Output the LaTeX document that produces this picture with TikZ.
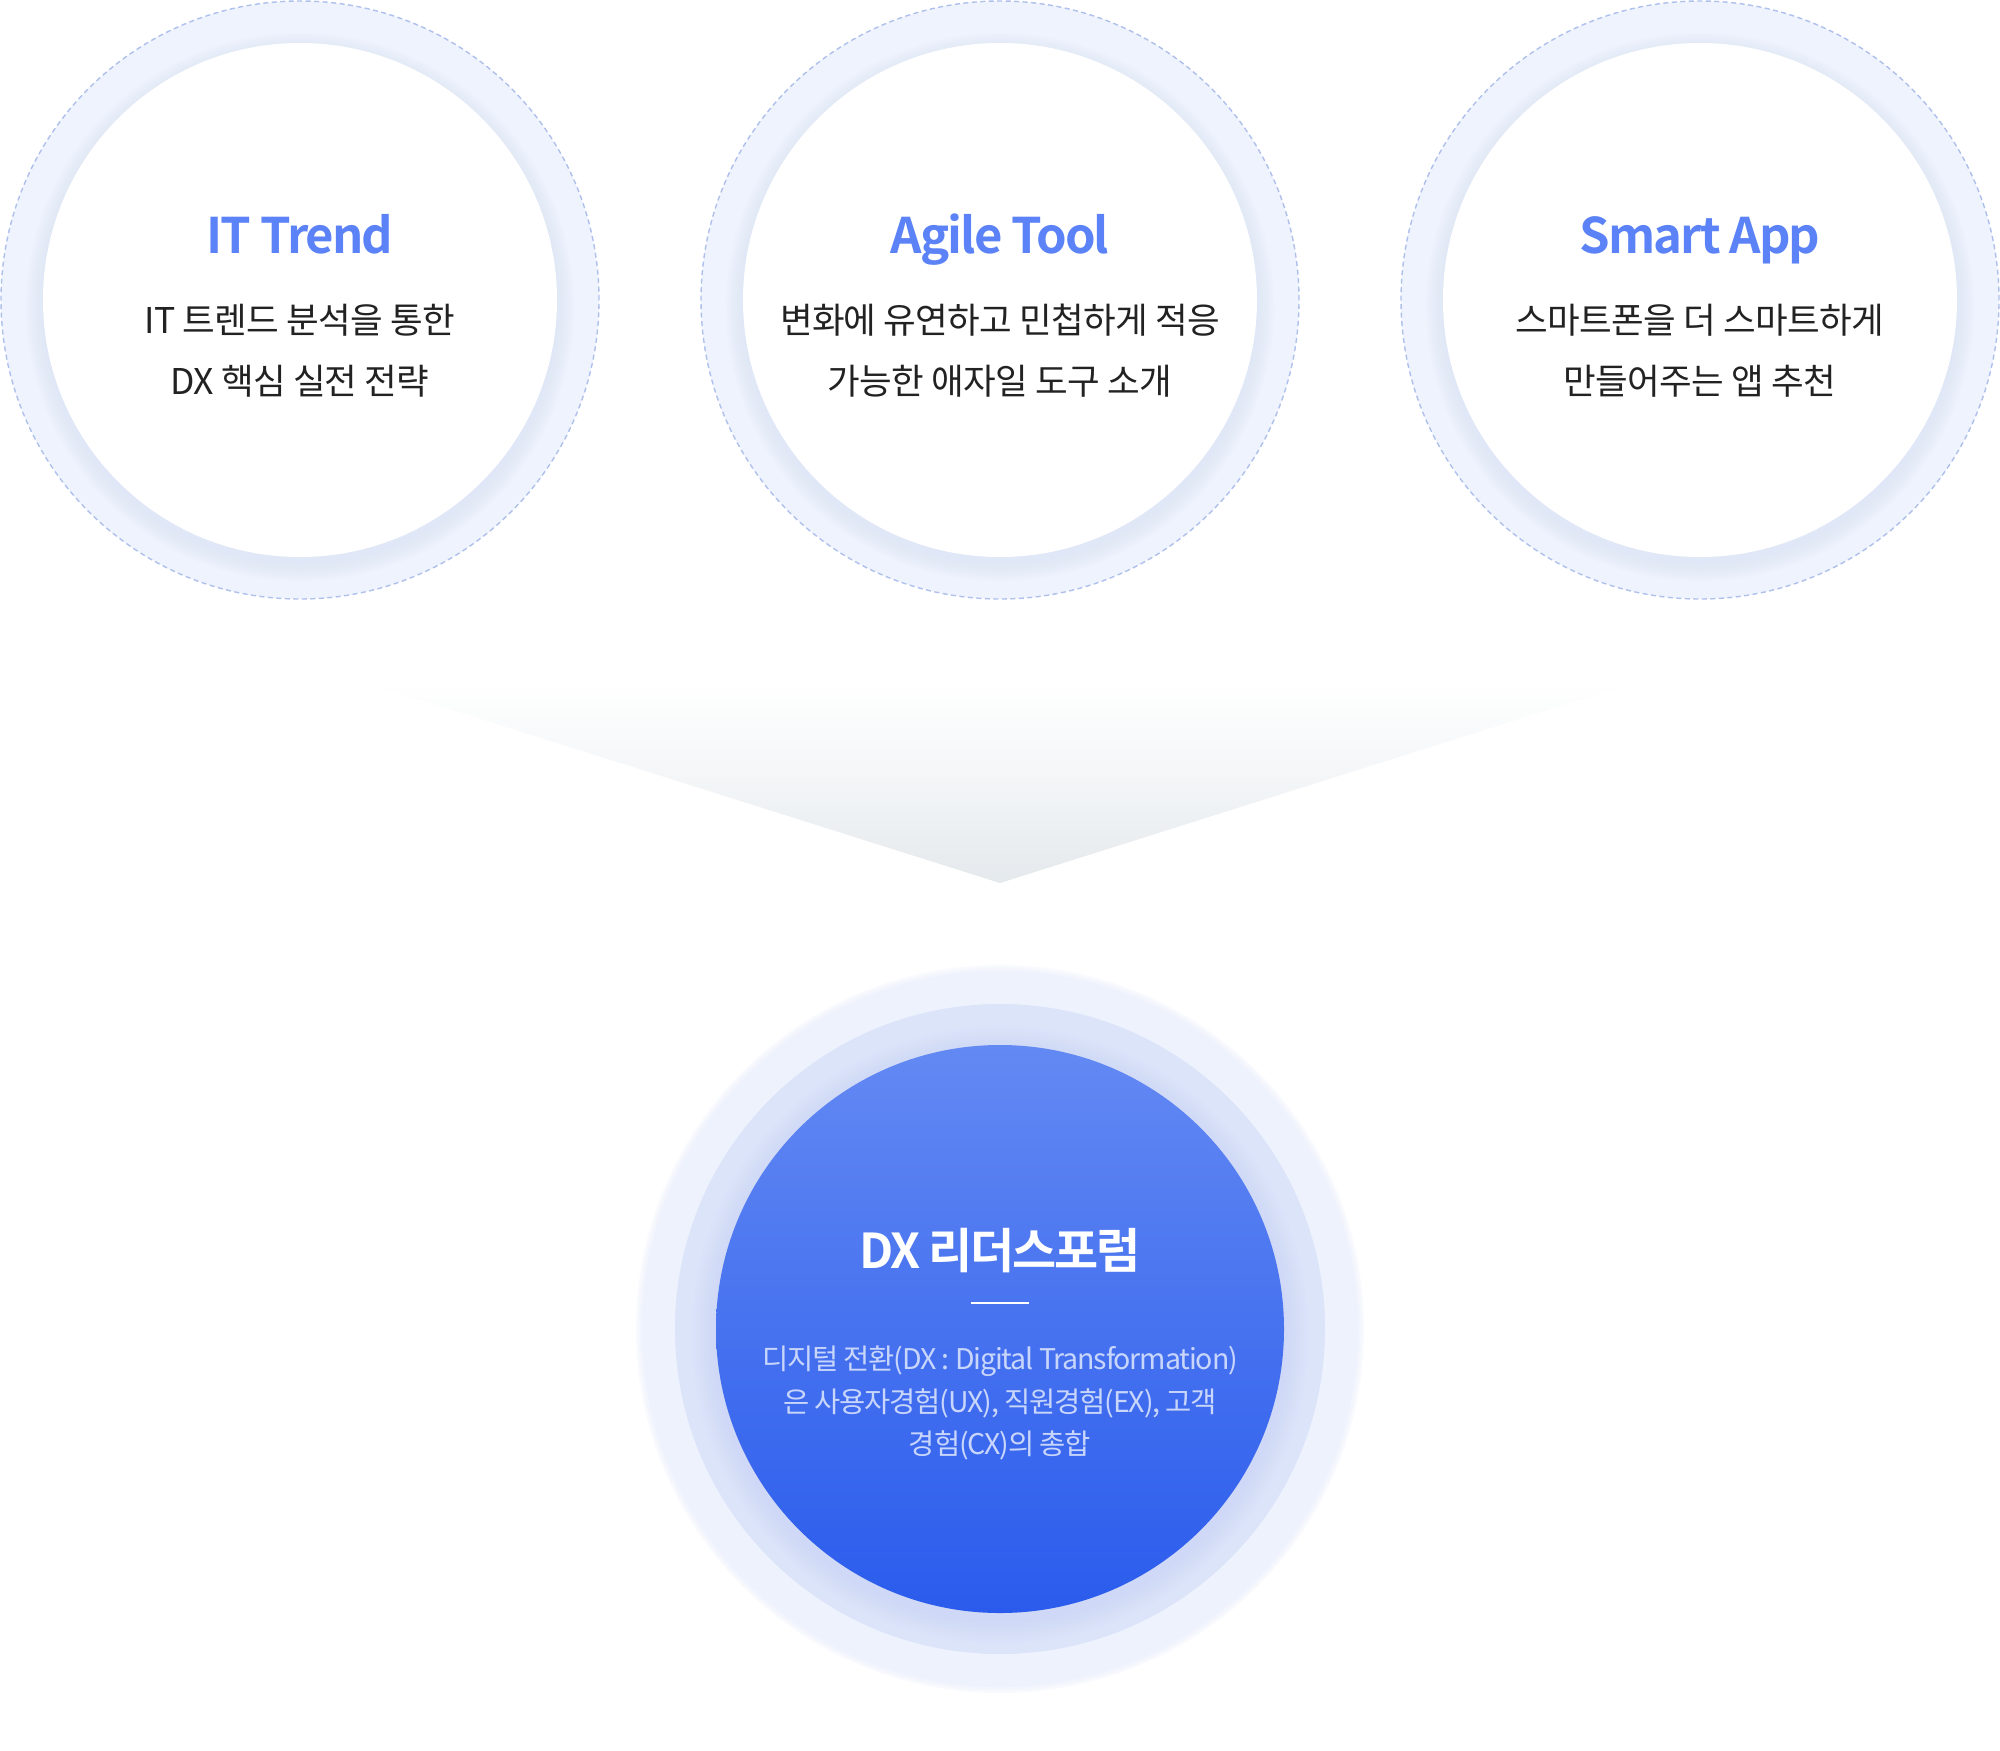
\documentclass[tikz,border=0pt]{standalone}
\usepackage{fontspec}
\setmainfont{Noto Sans CJK KR}
\newfontfamily\krbold{Noto Sans CJK KR Bold}
\definecolor{ringfill}{HTML}{EFF3FD}
\definecolor{dashcol}{HTML}{AFC0EC}
\definecolor{shadowcol}{HTML}{C9D4F6}
\definecolor{titleblue}{HTML}{5B82F6}
\definecolor{textdark}{HTML}{222222}
\definecolor{outerring}{HTML}{EEF2FD}
\definecolor{midring}{HTML}{DCE4FA}
\definecolor{bluetop}{HTML}{6389F3}
\definecolor{bluebot}{HTML}{2A5BEC}
\definecolor{lighttext}{HTML}{C9D6FB}
\definecolor{funnelbot}{HTML}{E4E9ED}
\tikzset{
  toptitle/.style={font=\krbold\fontsize{49}{56}\selectfont\addfontfeatures{LetterSpace=-4}, text=titleblue, anchor=base},
  topbody/.style={font=\fontsize{35.5}{61}\selectfont\addfontfeatures{LetterSpace=-2}, text=textdark, align=center},
  dashring/.style={draw=dashcol, dash pattern=on 5pt off 3.5pt, line width=1.4pt},
}
\begin{document}
\begin{tikzpicture}[x=1pt,y=-1pt]
\useasboundingbox (0,0) rectangle (2000,1751);
\fill[white] (0,0) rectangle (2000,1751);

% funnel
\shade[top color=white, bottom color=funnelbot, middle color={funnelbot!45!white}]
  (364,682) -- (1636,682) -- (1000,883) -- cycle;

% top circles
\foreach \cx/\nm in {300/a,1000/b,1700/c}{
  \fill[ringfill] (\cx,300) circle (299pt);
  \draw[dashring] (\cx,300) circle (299pt);
  \foreach \k in {1,...,10}{
    \fill[shadowcol, opacity=0.035] (\cx,307) circle ({256+1.8*\k});
  }
  \fill[white] (\cx,300) circle (257pt);
  \coordinate (c\nm) at (\cx,300);
}
\node[toptitle] (ta) at (300,253) {IT Trend};
\node[toptitle] (tb) at (1000,253) {Agile Tool};
\node[toptitle] (tc) at (1700,253) {Smart App};
\node[topbody] (ba) at (300,351) {IT 트렌드 분석을 통한\\DX 핵심 실전 전략};
\node[topbody] (bb) at (1000,351) {변화에 유연하고 민첩하게 적응\\가능한 애자일 도구 소개};
\node[topbody] (bc) at (1700,351) {스마트폰을 더 스마트하게\\만들어주는 앱 추천};

% bottom circle
\coordinate (dx) at (1000,1329);
\foreach \k in {1,...,8}{
  \fill[outerring, opacity=0.35] (dx) circle ({366-2*\k});
}
\fill[outerring] (dx) circle (358pt);
\fill[midring] (dx) circle (325pt);
\foreach \k in {1,...,12}{
  \fill[shadowcol, opacity=0.06] ([yshift=-6pt]dx) circle ({285+2*\k});
}
\shade[top color=bluetop, bottom color=bluebot] (dx) circle (284pt);
\node[font=\krbold\fontsize{48}{56}\selectfont\addfontfeatures{LetterSpace=-5}, text=white, anchor=base] (dxt) at (1000,1268) {DX 리더스포럼};
\coordinate (dl) at (971,1303);
\coordinate (dr) at (1029,1303);
\draw[white, line width=2pt] (dl) -- (dr);
\node[font=\fontsize{28.5}{42.5}\selectfont\addfontfeatures{LetterSpace=-4}, text=lighttext, align=center] (dxb) at (1000,1403)
  {디지털 전환(DX : Digital Transformation)\\은 사용자경험(UX), 직원경험(EX), 고객\\경험(CX)의 총합};
\end{tikzpicture}
\end{document}
